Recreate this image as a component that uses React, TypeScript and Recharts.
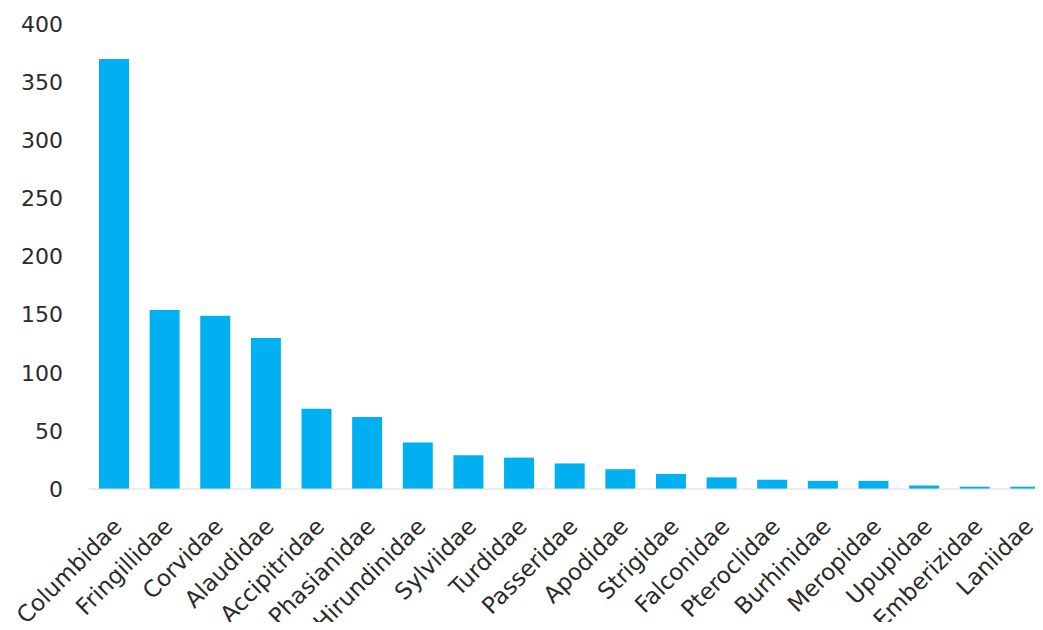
import React from 'react';
import { Bar, BarChart, XAxis, YAxis } from 'recharts';

const families = [
    'Columbidae',
    'Fringillidae',
    'Corvidae',
    'Alaudidae',
    'Accipitridae',
    'Phasianidae',
    'Hirundinidae',
    'Sylviidae',
    'Turdidae',
    'Passeridae',
    'Apodidae',
    'Strigidae',
    'Falconidae',
    'Pteroclidae',
    'Burhinidae',
    'Meropidae',
    'Upupidae',
    'Emberizidae',
    'Laniidae',
];

const counts = [370, 154, 149, 130, 69, 62, 40, 29, 27, 22, 17, 13, 10, 8, 7, 7, 3, 2, 2];

const yTicks = [0, 50, 100, 150, 200, 250, 300, 350, 400];

const data = families.map((name, i) => ({ name, count: counts[i] }));

const FONT = '"DejaVu Sans", Verdana, sans-serif';

const FamilyTick = (props: any) => {
    const { x, y, payload } = props;
    return (
        <g transform={`translate(${x + 9},${y + 31})`}>
            <text
                x={0}
                y={0}
                textAnchor="end"
                transform="rotate(-45)"
                fontFamily={FONT}
                fontSize={23}
                fill="#2b2b2b"
            >
                {payload.value}
            </text>
        </g>
    );
};

export default function App() {
    return (
        <div style={{ width: 1043, height: 630, margin: -8, overflow: 'hidden', background: '#fff' }}>
            <BarChart
                width={1060}
                height={630}
                data={data}
                margin={{ top: 24, right: 9, bottom: 0, left: 0 }}
                barSize={30}
            >
                <XAxis
                    dataKey="name"
                    interval={0}
                    height={141}
                    tickLine={false}
                    axisLine={{ stroke: '#dcdcdc', strokeWidth: 1 }}
                    tick={<FamilyTick />}
                />
                <YAxis
                    type="number"
                    domain={[0, 400]}
                    ticks={yTicks}
                    width={89}
                    axisLine={false}
                    tickLine={false}
                    tickSize={0}
                    tickMargin={26}
                    tick={{ fontFamily: FONT, fontSize: 22, fill: '#2b2b2b' }}
                />
                <Bar dataKey="count" fill="#00B0F0" isAnimationActive={false} />
            </BarChart>
        </div>
    );
}
